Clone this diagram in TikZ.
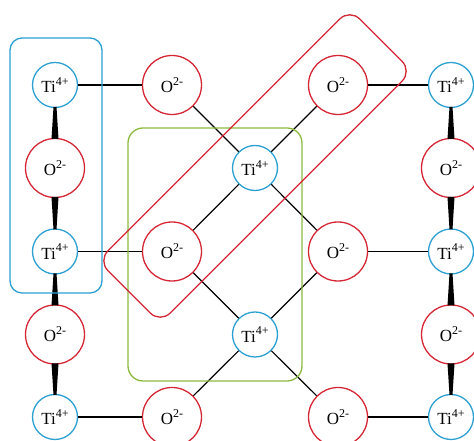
\documentclass[tikz,border=0pt]{standalone}
\usepackage{fontspec}
\setmainfont{Liberation Serif}
\usepackage{tikz}
\usetikzlibrary{calc}
\definecolor{tiblue}{RGB}{45,160,210}
\definecolor{ored}{RGB}{212,38,52}
\definecolor{boxgreen}{RGB}{140,186,62}
\newcommand{\chg}[1]{\raisebox{0.42em}{\fontsize{12}{12}\selectfont #1}}
\tikzstyle{tivertex}=[circle,draw=tiblue,fill=white,line width=1.3pt,minimum size=45pt,inner sep=0pt,font=\fontsize{17}{19}\selectfont]
\tikzstyle{overtex}=[circle,draw=ored,fill=white,line width=1.3pt,minimum size=59pt,inner sep=0pt,font=\fontsize{17}{19}\selectfont]
\tikzstyle{bond} = [black,line width=1.2pt]

\begin{document}
\begin{tikzpicture}[x=1pt,y=1pt]
\useasboundingbox (0,0) rectangle (474,441);

%Ti sites
    \foreach \pos/\name in {{(55,356)/ta}, {(55,189.5)/tb}, {(55,24)/tc}, {(255,273)/td}, {(255,106.5)/te}, {(451,356)/tf}, {(451,189.5)/tg}, {(451,24)/th}}
        \node[tivertex] (\name) at \pos {Ti\chg{4+}};
%O sites
    \foreach \pos/\name in {{(172,356)/oa}, {(55,273)/ob}, {(172,189.5)/oc}, {(55,106.5)/od}, {(172,24)/oe}, {(338,356)/of}, {(338,189.5)/og}, {(338,24)/oh}, {(451,273)/oi}, {(451,106.5)/oj}}
        \node[overtex] (\name) at \pos {O\chg{2-}};

  \foreach \source/ \dest in {ta/oa, tb/oc, tc/oe, of/tf, og/tg, oh/th, oa/td, of/td, oc/td, og/td, oc/te, og/te, oe/te, oh/te}
          \draw[bond] (\source) -- (\dest);
%wedges
  \foreach \ti/\ox in {ta/ob, tb/ob, tb/od, tc/od, tf/oi, tg/oi, tg/oj, th/oj}
          \fill[black] ($(\ti)!22pt!(\ox)!1.5pt!90:(\ox)$) -- ($(\ti)!22pt!(\ox)!1.5pt!-90:(\ox)$)
                 -- ($(\ox)!29pt!(\ti)!3.5pt!90:(\ti)$) -- ($(\ox)!29pt!(\ti)!3.5pt!-90:(\ti)$) -- cycle;

%unit cells
    \draw[tiblue, line width=1.3pt, rounded corners=12pt] (10,148) rectangle (102,403);
    \draw[boxgreen, line width=1.3pt, rounded corners=15pt] (128,60) rectangle (302,313);
    \node[draw=ored, line width=1.3pt, rounded corners=14pt, minimum width=356pt, minimum height=88pt, inner sep=0pt, rotate=45] (chain) at (255,275) {};

\end{tikzpicture}
\end{document}
